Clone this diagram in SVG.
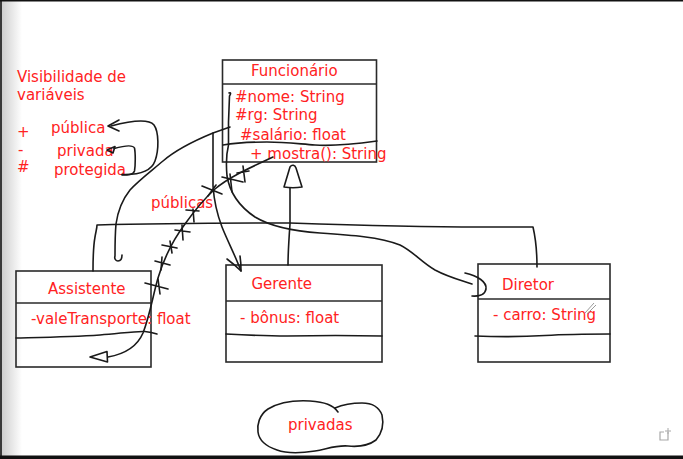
<svg xmlns="http://www.w3.org/2000/svg" width="683" height="459" viewBox="0 0 683 459">
<defs>
<linearGradient id="lg" x1="0" x2="1" y1="0" y2="0">
<stop offset="0" stop-color="#cfcfcf"/>
<stop offset="1" stop-color="#ffffff"/>
</linearGradient>
</defs>
<style>
.t{font-family:"DejaVu Sans",Verdana,sans-serif;font-size:15px;fill:#ff2222}
.box{fill:none;stroke:#2a2a2a;stroke-width:1.6}
.ink{fill:none;stroke:#1a1a1a;stroke-width:1.6;stroke-linecap:round;stroke-linejoin:round}
</style>
<rect x="0" y="0" width="683" height="459" fill="#fff"/>
<rect x="2" y="0" width="20" height="459" fill="url(#lg)"/>
<rect x="0" y="0" width="2" height="459" fill="#3a3a3a"/>
<rect x="0" y="0" width="683" height="1.5" fill="#111"/>
<rect x="0" y="455.5" width="683" height="3.5" fill="#111"/>

<g id="legend">
<text class="t" x="17" y="82">Visibilidade de</text>
<text class="t" x="17" y="100">variáveis</text>
<text class="t" x="17" y="137">+</text>
<text class="t" x="18" y="154.5">-</text>
<text class="t" x="17" y="172">#</text>
<text class="t" x="51" y="133">pública</text>
<text class="t" x="57" y="156">privada</text>
<text class="t" x="54" y="175">protegida</text>
</g>

<g id="funcionario">
<rect class="box" x="222.5" y="60" width="154" height="102"/>
<line class="box" x1="222.5" y1="84" x2="376.5" y2="84"/>
<text class="t" x="251" y="76">Funcionário</text>
<text class="t" x="235" y="102">#nome: String</text>
<text class="t" x="235" y="120">#rg: String</text>
<text class="t" x="240" y="140">#salário: float</text>
<text class="t" x="250" y="158.5">+ mostra(): String</text>
</g>

<g id="assistente">
<rect class="box" x="16" y="271" width="135" height="96"/>
<line class="box" x1="16" y1="303" x2="151" y2="303"/>
<text class="t" x="48" y="293.5">Assistente</text>
<text class="t" x="31" y="323.5">-valeTransporte: float</text>
</g>

<g id="gerente">
<rect class="box" x="226" y="265" width="156" height="97"/>
<line class="box" x1="226" y1="301" x2="382" y2="301"/>
<text class="t" x="251.5" y="288.5">Gerente</text>
<text class="t" x="240" y="322.5">- bônus: float</text>
</g>

<g id="diretor">
<rect class="box" x="478" y="264" width="132" height="98"/>
<line class="box" x1="478" y1="299" x2="610" y2="299"/>
<text class="t" x="502" y="290">Diretor</text>
<text class="t" x="493" y="320">- carro: String</text>
<path d="M585,313 L594,303 M587,314 L596,305" fill="none" stroke="#9a9a9a" stroke-width="1"/>
</g>

<g id="privadas">
<path class="ink" d="M338,412 C333,405 325,402 310,401 C292,400 278,403 268,409 C259,415 257,425 258,432 C259,440 265,446 277,450 C288,454 302,453 315,451 C327,449 336,445 348,446 C358,447 368,446 376,440 C382,433 384,424 382,415 C379,407 372,403 362,403 C352,403 342,405 335,408"/>
<text class="t" x="288" y="430">privadas</text>
</g>

<g id="publicas">
<text class="t" x="151" y="208">públicas</text>
</g>

<g id="connectors">
<path class="ink" d="M122,174.5 C138,175 151,172 155,161 C159,150 159,132 154,125 C148,118 130,121 111,126"/>
<path class="ink" d="M119,120 L108,126 L119,131"/>
<path class="ink" d="M122,175 C128,175 133,175 134.5,171 C135.5,165 135.5,153 134.5,148 C133,145 125,145.5 114,148.5"/>
<path class="ink" d="M107,150 L115,146.5 L113,153 Z"/>
<path class="ink" d="M223,145 C235,143 250,142 267,142 C285,142 300,144 315,145 C335,146.5 355,144 377,141"/>
<path class="ink" d="M16,338 C35,337.5 70,337 100,335 C120,333.5 135,331 145,331.5 C150,332 154,333 157,334"/>
<path class="ink" d="M226,334 C245,335 265,336 287,336 C310,335.5 340,335 382,336"/>
<path class="ink" d="M475,336 C500,337 520,337 545,335.5 C570,334 590,334 610,334"/>
<path class="ink" d="M230,127 L213,133 C196,140 178,148 163,161 C150,172 138,181 130,190 C122,200 118,210 116,224 C115,235 115,245 115,256 C114,259 116,261 118,261 C121,261 122,259 122,255"/>
<path class="ink" d="M213,133 L213,186 C214,200 217,214 222,227 C228,242 235,255 241,271"/>
<path class="ink" d="M227,259 C231,262 235,265 241,271 M240,256 C241,262 241,266 241,271"/>
<path class="ink" d="M229,93 C231,92 231,94 229.5,96 L228.5,122 L228.5,145 C226,155 226,165 227,176 C230,194 240,207 255,217 C270,226 290,231 320,233 C350,235 380,237 400,245 C414,252 421,262 435,270 C448,277 460,280 472,284"/>
<path class="ink" d="M465,273 C478,276 487,282 486,289 C485,295 478,296.5 472,296"/>
<path class="ink" d="M284,187 L290,167 C292,164 295,165 296,168 L302,187 C296,188 290,188 284,187 Z" fill="#fff"/>
<path class="ink" d="M290,188 C290,200 290,212 290,224 C289,238 288,252 288,265"/>
<path class="ink" d="M93,271 C93,258 93,248 95,237 C96,231 97,228 97,225 C150,223.5 220,223 290,223 C350,225 420,227 480,227 L533,227 C536,240 537,255 537,267"/>
<path class="ink" d="M108,357 C125,354 137,347 143,333 C150,315 153,295 158,278 C164,258 173,240 185,224 C195,210 205,198 215,189 C228,178 245,170 273,157"/>
<path class="ink" d="M90,357 L107,351.5 L107.5,362 Z"/>
<path class="ink" d="M145,283 L168,289 M158,279 L160,294"/>
<path class="ink" d="M155,261 L170,265 M162,257 L161,270"/>
<path class="ink" d="M162,245 L177,248 M170,241 L172,253"/>
<path class="ink" d="M175,230 L190,232 M182,225 L183,240"/>
<path class="ink" d="M186,210 L199,211 M193,209 L194,222"/>
<path class="ink" d="M202,186 L222,194 M208,196 L216,185"/>
<path class="ink" d="M222,177 L243,182 M230,174 L232,192"/>
<path class="ink" d="M237,173 L249,171 M243,166 L245,182"/>
</g>

<g id="icon">
<path d="M668,432 L668,440 L660,440 L660,432 L664,432" fill="none" stroke="#a8a8a8" stroke-width="1.2"/>
<path d="M668,428 L668,434 M665,431 L671,431" fill="none" stroke="#a8a8a8" stroke-width="1"/>
</g>
</svg>
